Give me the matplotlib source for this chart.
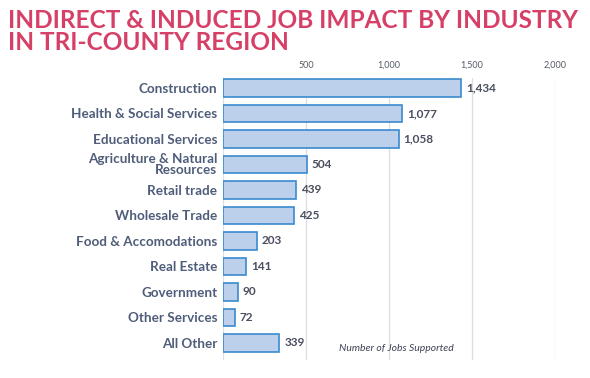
import matplotlib
matplotlib.use("Agg")
import matplotlib.pyplot as plt

categories = ["Construction", "Health & Social Services", "Educational Services",
              "Agriculture & Natural\nResources", "Retail trade", "Wholesale Trade",
              "Food & Accomodations", "Real Estate", "Government", "Other Services",
              "All Other"]
values = [1434, 1077, 1058, 504, 439, 425, 203, 141, 90, 72, 339]
xticks = [500, 1000, 1500, 2000]
xtick_labels = ["500", "1,000", "1,500", "2,000"]

fig = plt.figure(figsize=(5.9, 3.78), dpi=100)
fig.patch.set_facecolor("white")
ax = fig.add_axes([223/590, 1-360/378, (555-223)/590, (360-78)/378])

pos = list(range(len(categories)))
ax.barh(pos, values, height=0.68, color="#bcd0ec", edgecolor="#3a8ad0", linewidth=1.2, zorder=3)
for p, v in zip(pos, values):
    ax.text(v + 30, p, f"{v:,}", va="center", ha="left", fontsize=8.5, fontweight="bold",
            color="#4a4e5e", family="Lato")

ax.set_xlim(0, 2000)
ax.set_ylim(10.67, -0.39)
ax.set_yticks(pos)
ax.set_yticklabels(categories, fontsize=9.7, fontweight="bold", color="#4f5d7a", family="Lato",
                   linespacing=0.85)
ax.tick_params(axis="y", length=0, pad=4)
ax.xaxis.tick_top()
ax.set_xticks(xticks)
ax.set_xticklabels(xtick_labels, fontsize=6.5, color="#555b66", family="Lato")
ax.tick_params(axis="x", length=0, pad=6)
ax.grid(axis="x", color="#dcdee3", linewidth=0.9, zorder=0)
ax.axvline(0, color="#dcdee3", linewidth=0.9, zorder=0)
for s in ax.spines.values():
    s.set_visible(False)

ax.text(0.35, 0.04, "Number of Jobs Supported", transform=ax.transAxes, fontsize=7.5,
        style="italic", color="#3e4455", family="Lato", ha="left", va="center")

fig.text(8/590, 1-20/378, "INDIRECT & INDUCED JOB IMPACT BY INDUSTRY", fontsize=17.6,
         fontweight="bold", color="#d63f66", family="Lato", va="center", ha="left")
fig.text(8/590, 1-42/378, "IN TRI-COUNTY REGION", fontsize=17.6,
         fontweight="bold", color="#d63f66", family="Lato", va="center", ha="left")

fig.savefig("out.png", dpi=100)
